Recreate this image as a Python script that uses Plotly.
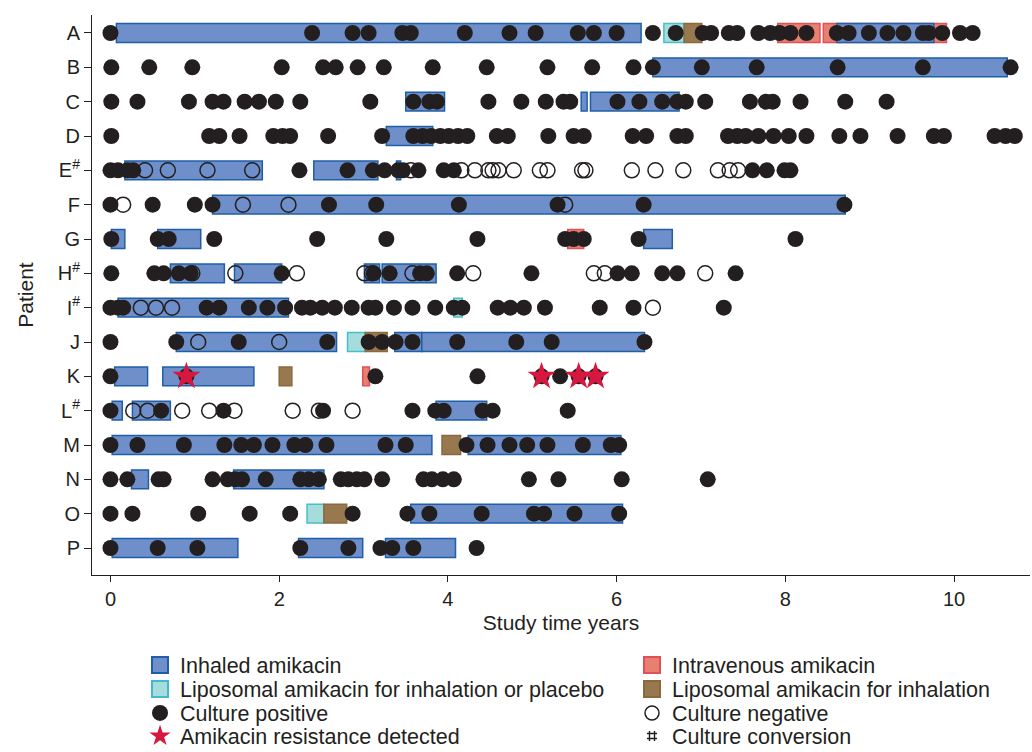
import plotly.graph_objects as go

patients = ["A", "B", "C", "D", "E", "F", "G", "H", "I", "J", "K", "L", "M", "N", "O", "P"]
tick_labels = ["A", "B", "C", "D", "E<sup>#</sup>", "F", "G", "H<sup>#</sup>", "I<sup>#</sup>",
               "J", "K", "L<sup>#</sup>", "M", "N", "O", "P"]

# Treatment periods (start, end) in study years
inhaled = {
    "A": [(0.07, 6.29), (8.61, 9.76)],
    "B": [(6.43, 10.63)],
    "C": [(3.50, 3.96), (5.58, 5.65), (5.69, 6.74)],
    "D": [(3.27, 3.82)],
    "E": [(0.17, 1.80), (2.41, 3.17), (3.39, 3.44)],
    "F": [(1.21, 8.71)],
    "G": [(0.01, 0.17), (0.56, 1.07), (6.32, 6.66)],
    "H": [(0.71, 1.35), (1.47, 2.03), (3.01, 3.19), (3.22, 3.86)],
    "I": [(0.09, 2.11)],
    "J": [(0.78, 2.68), (3.37, 3.69), (3.69, 6.33)],
    "K": [(0.05, 0.44), (0.62, 1.70)],
    "L": [(0.02, 0.14), (0.26, 0.71), (3.86, 4.46)],
    "M": [(0.02, 3.81), (4.24, 6.05)],
    "N": [(0.25, 0.45), (1.46, 2.53)],
    "O": [(3.56, 6.07)],
    "P": [(0.02, 1.51), (2.23, 2.99), (3.26, 4.09)],
}
intravenous = {
    "A": [(7.91, 8.41), (8.45, 9.91)],
    "G": [(5.42, 5.61)],
    "K": [(2.99, 3.07)],
}
liposomal_or_placebo = {
    "A": [(6.56, 6.80)],
    "I": [(4.07, 4.17)],
    "J": [(2.81, 3.02)],
    "O": [(2.33, 2.53)],
}
liposomal = {
    "A": [(6.80, 7.01)],
    "J": [(3.02, 3.28)],
    "K": [(2.00, 2.15)],
    "M": [(3.93, 4.15)],
    "O": [(2.53, 2.80)],
}

# Culture results (study years)
culture_positive = {
    "A": [0.0, 2.39, 2.87, 3.06, 3.46, 3.56, 4.20, 4.73, 5.04, 5.54, 5.73, 6.00, 6.43, 6.70,
          7.02, 7.12, 7.33, 7.43, 7.68, 7.82, 7.93, 8.06, 8.25, 8.61, 8.75, 8.99, 9.21, 9.40,
          9.63, 9.70, 9.86, 10.07, 10.22],
    "B": [0.01, 0.46, 0.97, 2.03, 2.52, 2.67, 2.93, 3.24, 3.82, 4.46, 5.18, 5.71, 6.20, 6.43,
          7.01, 7.66, 8.62, 9.63, 10.67],
    "C": [0.01, 0.32, 0.93, 1.21, 1.34, 1.59, 1.76, 1.96, 2.25, 3.08, 3.59, 3.78, 3.87, 4.48,
          4.87, 5.16, 5.37, 5.45, 6.01, 6.27, 6.54, 6.72, 6.82, 7.05, 7.58, 7.77, 7.85, 8.18,
          8.71, 9.20],
    "D": [0.01, 1.17, 1.29, 1.53, 1.93, 2.04, 2.13, 2.58, 3.22, 3.59, 3.70, 3.80, 3.91, 4.01,
          4.12, 4.23, 4.58, 4.71, 5.19, 5.49, 5.61, 6.19, 6.35, 6.72, 6.82, 7.32, 7.43, 7.53,
          7.68, 7.86, 8.04, 8.25, 8.64, 8.89, 9.33, 9.76, 9.88, 10.48, 10.61, 10.72],
    "E": [0.0, 0.09, 0.20, 0.27, 2.24, 2.81, 3.11, 3.25, 3.41, 3.47, 3.65, 3.95, 4.07, 7.61,
          7.78, 7.99, 8.06],
    "F": [0.0, 0.50, 1.00, 1.21, 2.59, 3.15, 4.13, 5.30, 6.32, 8.70],
    "G": [0.01, 0.56, 0.69, 1.23, 2.45, 3.27, 4.35, 5.39, 5.49, 5.61, 6.26, 8.12],
    "H": [0.01, 0.52, 0.63, 0.81, 0.95, 2.03, 3.12, 3.31, 3.67, 3.75, 4.11, 4.99, 6.01, 6.18,
          6.54, 6.72, 7.41],
    "I": [0.0, 0.09, 0.15, 1.14, 1.29, 1.64, 1.86, 2.07, 2.27, 2.37, 2.51, 2.66, 2.86, 3.06,
          3.14, 3.36, 3.58, 3.85, 4.07, 4.17, 4.59, 4.74, 4.90, 5.15, 5.80, 6.20, 7.27],
    "J": [0.0, 0.78, 1.52, 2.57, 3.06, 3.22, 3.38, 3.58, 4.11, 4.81, 5.23, 6.33],
    "K": [0.0, 0.90, 3.14, 4.35, 5.11, 5.33, 5.55, 5.75],
    "L": [0.0, 0.60, 1.34, 2.52, 3.58, 3.85, 3.95, 4.41, 4.53, 5.42],
    "M": [0.0, 0.32, 0.87, 1.35, 1.55, 1.70, 1.92, 2.18, 2.31, 2.56, 3.26, 3.50, 4.22, 4.47,
          4.73, 4.94, 5.18, 5.60, 5.93, 6.03],
    "N": [0.0, 0.20, 0.57, 0.63, 1.21, 1.39, 1.48, 1.56, 1.84, 2.25, 2.35, 2.47, 2.73, 2.82,
          2.92, 3.01, 3.22, 3.71, 3.81, 3.94, 4.07, 4.96, 5.31, 6.06, 7.08],
    "O": [0.0, 0.26, 1.04, 1.65, 2.13, 2.87, 3.52, 3.78, 4.40, 5.02, 5.14, 5.50, 6.03],
    "P": [0.0, 0.56, 1.03, 2.25, 2.82, 3.20, 3.34, 3.59, 4.34],
}
culture_negative = {
    "E": [0.41, 0.68, 1.15, 1.68, 3.56, 4.16, 4.32, 4.48, 4.53, 4.60, 4.78, 5.09, 5.18, 5.59,
          5.63, 6.18, 6.46, 6.79, 7.20, 7.34, 7.44],
    "F": [0.15, 1.57, 2.11, 5.39],
    "H": [0.97, 1.48, 2.21, 3.01, 3.10, 3.58, 4.30, 5.73, 5.86, 7.05],
    "I": [0.36, 0.54, 0.73, 6.43],
    "J": [1.04, 2.00],
    "L": [0.27, 0.44, 0.85, 1.17, 1.47, 2.16, 2.47, 2.87],
}
resistance = {"K": [0.90, 5.11, 5.55, 5.75]}

FONT = "Liberation Sans, Arial, sans-serif"
INK = "#231f20"
row_of = {p: i for i, p in enumerate(patients)}

BAR_STYLES = [
    ("Intravenous amikacin", intravenous, "#e8806f", "#e0505a"),
    ("Liposomal amikacin for inhalation or placebo", liposomal_or_placebo, "#a6dcdc", "#44c0c8"),
    ("Liposomal amikacin for inhalation", liposomal, "#98794f", "#8a6a3c"),
    ("Inhaled amikacin", inhaled, "#6e8fc9", "#1f5fa8"),
]

fig = go.Figure()

for name, periods, fill, edge in BAR_STYLES:
    ys, bases, lens = [], [], []
    for p, segs in periods.items():
        for s, e in segs:
            ys.append(row_of[p]); bases.append(s); lens.append(e - s)
    fig.add_trace(go.Bar(orientation="h", y=ys, x=lens, base=bases, width=0.55,
                         marker=dict(color=fill, line=dict(color=edge, width=1.5)),
                         showlegend=False, name=name))

def flatten(d):
    xs, ys = [], []
    for p, vals in d.items():
        for v in vals:
            xs.append(v); ys.append(row_of[p])
    return xs, ys

px_, py_ = flatten(culture_positive)
fig.add_trace(go.Scatter(x=px_, y=py_, mode="markers", showlegend=False,
                         marker=dict(symbol="circle", size=16, color=INK, line=dict(width=0))))
nx_, ny_ = flatten(culture_negative)
fig.add_trace(go.Scatter(x=nx_, y=ny_, mode="markers", showlegend=False,
                         marker=dict(symbol="circle-open", size=15, color=INK, line=dict(width=1.5, color=INK))))
sx_, sy_ = flatten(resistance)
fig.add_trace(go.Scatter(x=sx_, y=sy_, mode="markers", showlegend=False,
                         marker=dict(symbol="star", size=21, color="#d6173f", line=dict(width=0))))

# Legend entries (each in its own legend box so layout matches the two-column key)
legend_items = [
    ("Inhaled amikacin", dict(symbol="square", size=16, color="#6e8fc9", line=dict(color="#1f5fa8", width=2)), "legend"),
    ("Intravenous amikacin", dict(symbol="square", size=16, color="#e8806f", line=dict(color="#e0505a", width=2)), "legend2"),
    ("Liposomal amikacin for inhalation or placebo", dict(symbol="square", size=16, color="#a6dcdc", line=dict(color="#44b8d0", width=2)), "legend3"),
    ("Liposomal amikacin for inhalation", dict(symbol="square", size=16, color="#98794f", line=dict(color="#8a6a3c", width=2)), "legend4"),
    ("Culture positive", dict(symbol="circle", size=16, color=INK), "legend5"),
    ("Culture negative", dict(symbol="circle-open", size=14, color=INK, line=dict(width=1.5, color=INK)), "legend6"),
    ("Amikacin resistance detected", dict(symbol="star", size=16, color="#d6173f", line=dict(width=0)), "legend7"),
    ("Culture conversion", dict(symbol="hash-open", size=10, color=INK, line=dict(width=1.4, color=INK)), "legend8"),
]
for name, mk, lg in legend_items:
    fig.add_trace(go.Scatter(x=[None], y=[None], mode="markers", name=name, marker=mk,
                             showlegend=True, legend=lg))

L_LEFT, L_RIGHT = 0.0512, 0.5757
ROWS = [-0.1607, -0.2036, -0.2464, -0.2875]
positions = {
    "legend": (L_LEFT, ROWS[0]), "legend2": (L_RIGHT, ROWS[0]),
    "legend3": (L_LEFT, ROWS[1]), "legend4": (L_RIGHT, ROWS[1]),
    "legend5": (L_LEFT, ROWS[2]), "legend6": (L_RIGHT, ROWS[2]),
    "legend7": (L_LEFT, ROWS[3]), "legend8": (L_RIGHT, ROWS[3]),
}
legend_layout = {}
for key, (lx, ly) in positions.items():
    legend_layout[key] = dict(x=lx, y=ly, xanchor="left", yanchor="middle",
                              bgcolor="rgba(0,0,0,0)", borderwidth=0,
                              font=dict(family=FONT, size=21.5, color=INK))

fig.update_layout(
    width=1032, height=752,
    margin=dict(l=92, r=2, t=15, b=177, autoexpand=False),
    paper_bgcolor="white", plot_bgcolor="white",
    barmode="overlay",
    font=dict(family=FONT, size=20, color=INK),
    xaxis=dict(range=[-0.219, 10.90], tickvals=[0, 2, 4, 6, 8, 10], ticks="outside",
               ticklen=6, tickcolor=INK, showline=True, linecolor=INK, linewidth=1,
               showgrid=False, zeroline=False,
               tickfont=dict(family=FONT, size=20, color=INK),
               title=dict(text="Study time years", standoff=6,
                          font=dict(family=FONT, size=21, color=INK))),
    yaxis=dict(range=[15.786, -0.524], tickvals=list(range(len(patients))), ticktext=tick_labels,
               ticks="outside", ticklen=7, tickcolor=INK, showline=True, linecolor=INK,
               linewidth=1, showgrid=False, zeroline=False,
               tickfont=dict(family=FONT, size=20, color=INK),
               title=dict(text="Patient", standoff=18, font=dict(family=FONT, size=21, color=INK))),
    **legend_layout,
)

fig.write_html("out.html", config={"displayModeBar": False},
               post_script="document.body.style.margin='0px';")
